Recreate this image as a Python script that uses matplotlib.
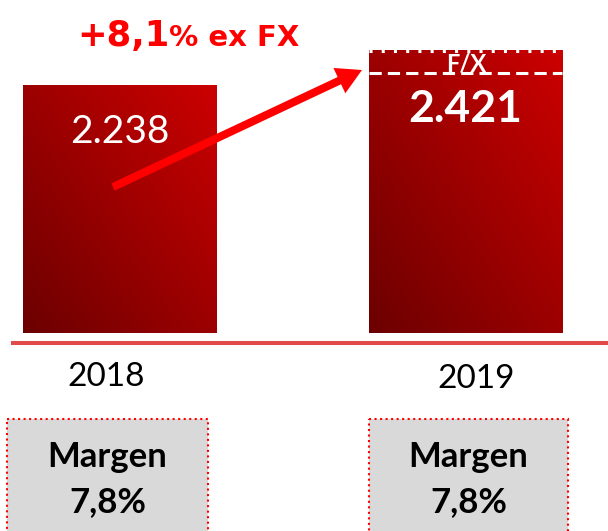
import numpy as np
import matplotlib
matplotlib.use('Agg')
from matplotlib import pyplot as plt
from matplotlib.colors import LinearSegmentedColormap
from matplotlib.patches import Rectangle

plt.rcParams['font.family'] = ['Lato', 'DejaVu Sans']

years = ['2018', '2019']
values = [2238, 2421]
fx = [0, 350]
margins = ['7,8%', '7,8%']
growth_num = '+8,1'
growth_txt = '% ex FX'

# axis floor is not zero (chart is drawn with a cut value axis)
ymin, ymax = -1544, 3534
bar_w = 0.558

fig = plt.figure(figsize=(6.08, 5.31), dpi=100)
ax = fig.add_axes([0, 198 / 531, 1, 333 / 531])
ax.axis('off')

cmap = LinearSegmentedColormap.from_list('redgrad', ['#6c0000', '#9c0000', '#cc0000'])
gy, gx = np.mgrid[0:1:200j, 0:1:200j]
grad = (gx + gy) / 2

x = np.arange(len(values))
tops = np.array(values) + np.array(fx)
bars = ax.bar(x, tops - ymin, bottom=ymin, width=bar_w, color='none', edgecolor='none')
for i, b in enumerate(bars):
    im = ax.imshow(grad, cmap=cmap, origin='lower', aspect='auto',
                   extent=[x[i] - bar_w / 2, x[i] + bar_w / 2, ymin, tops[i]], zorder=1)
    im.set_clip_path(b)
    if fx[i] > 0:
        ax.hlines(values[i], x[i] - bar_w / 2, x[i] + bar_w / 2, colors='white',
                  lw=2.2, linestyles=(0, (4, 2)), zorder=3)
        ax.hlines(tops[i] - 20, x[i] - bar_w / 2, x[i] + bar_w / 2, colors='white',
                  lw=2.2, linestyles=(0, (1, 3)), zorder=3)

ax.set_xlim(-119.5 / 346, (608 - 119.5) / 346)
ax.set_ylim(ymin, ymax)

# overlay in pixel coordinates for annotations
ov = fig.add_axes([0, 0, 1, 1], facecolor='none')
ov.set_xlim(0, 608)
ov.set_ylim(531, 0)
ov.axis('off')

ov.plot([11, 608], [343, 343], color='#e04a4a', lw=2.9, solid_capstyle='butt')

# value labels
ov.text(119.5, 143, f'{values[0] / 1000:.3f}', color='white', fontsize=28,
        ha='center', va='baseline')
ov.text(465, 122, f'{values[1] / 1000:.3f}', color='white', fontsize=32,
        fontweight='bold', ha='center', va='baseline')
ov.text(466, 71, 'F/X', color='white', fontsize=17, fontweight='bold',
        ha='center', va='baseline', zorder=1)

# growth arrow and label
ov.arrow(113, 187, 362 - 113, 70 - 187, width=8, head_width=28, head_length=25,
         length_includes_head=True, color='#ff0000', lw=0)
t1 = ov.text(77, 46, growth_num, color='#ff0000', fontsize=25.5, fontweight='bold',
             family='DejaVu Sans', ha='left', va='baseline')
ov.annotate(growth_txt, xy=(1, 46), xycoords=(t1, 'data'), color='#ff0000',
            fontsize=21, fontweight='bold', family='DejaVu Sans',
            ha='left', va='baseline')

# year labels and margin boxes
year_x = [106.5, 476.5]
year_y = [386, 388]
box_x = [7, 369]
box_w = [201, 199]
for i in range(len(years)):
    ov.text(year_x[i], year_y[i], years[i], fontsize=24, ha='center', va='baseline')
    ov.add_patch(Rectangle((box_x[i], 418.5), box_w[i], 130, facecolor='#d9d9d9',
                           edgecolor='#ff0000', lw=1.5, linestyle=':'))
    cx = box_x[i] + box_w[i] / 2
    ov.text(cx, 467, 'Margen', fontsize=25, fontweight='bold', ha='center', va='baseline')
    ov.text(cx, 512, margins[i], fontsize=25, fontweight='bold', ha='center', va='baseline')

fig.savefig('out.png', dpi=100)
